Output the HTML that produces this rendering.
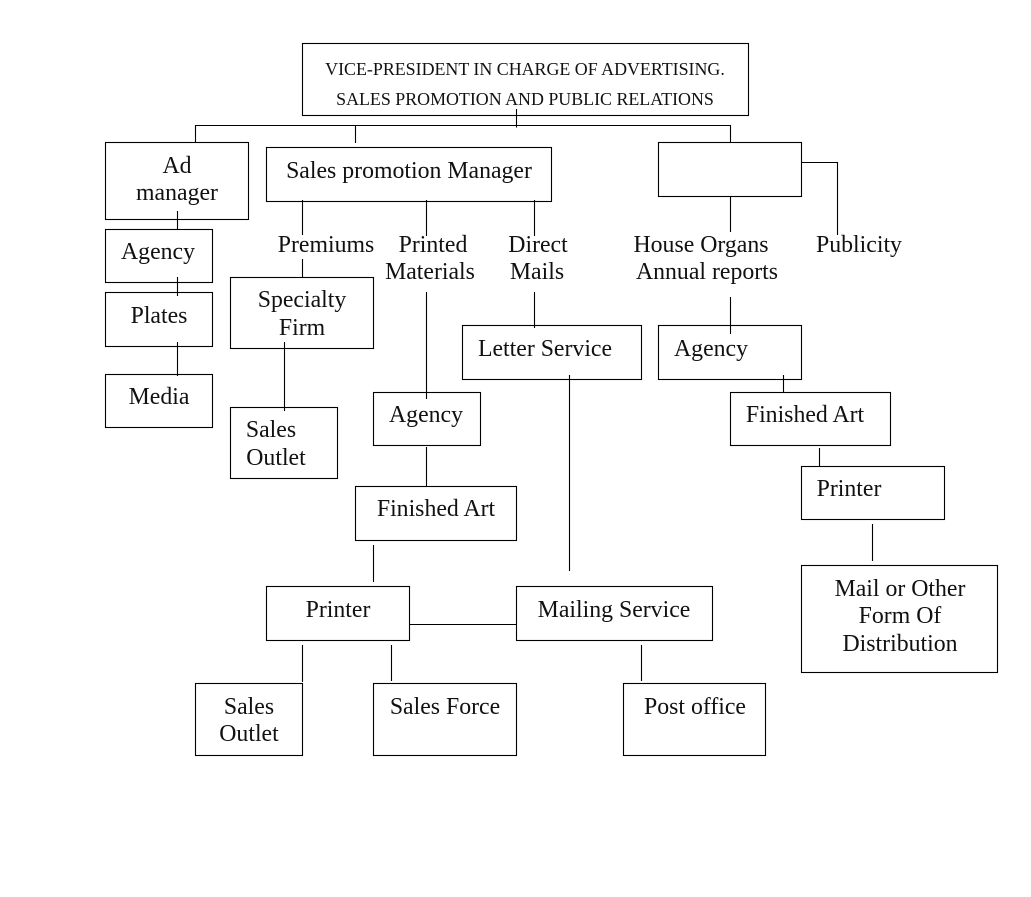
<!DOCTYPE html>
<html><head><meta charset="utf-8"><style>
html,body{margin:0;padding:0;background:#fff}
svg{display:block}
text{font-family:"Liberation Serif",serif;font-size:23.8px;fill:#111;text-anchor:middle}
.s{font-size:17.9px}
rect{fill:#fff;stroke:#000;stroke-width:1.1}
path{fill:none;stroke:#000;stroke-width:1.1}
</style></head><body>
<svg width="1031" height="897" viewBox="0 0 1031 897" xmlns="http://www.w3.org/2000/svg">
<rect x="302.5" y="43.5" width="446" height="72"/>
<rect x="105.5" y="142.5" width="143" height="77"/>
<rect x="266.5" y="147.5" width="285" height="54"/>
<rect x="658.5" y="142.5" width="143" height="54"/>
<rect x="105.5" y="229.5" width="107" height="53"/>
<rect x="105.5" y="292.5" width="107" height="54"/>
<rect x="105.5" y="374.5" width="107" height="53"/>
<rect x="230.5" y="277.5" width="143" height="71"/>
<rect x="230.500" y="407.5" width="107" height="71"/>
<rect x="462.5" y="325.5" width="179" height="54"/>
<rect x="658.5" y="325.5" width="143" height="54"/>
<rect x="373.5" y="392.5" width="107" height="53"/>
<rect x="730.5" y="392.5" width="160" height="53"/>
<rect x="801.5" y="466.5" width="143" height="53"/>
<rect x="355.5" y="486.5" width="161" height="54"/>
<rect x="801.5" y="565.5" width="196" height="107"/>
<rect x="266.5" y="586.5" width="143" height="54"/>
<rect x="516.5" y="586.5" width="196" height="54"/>
<rect x="195.5" y="683.5" width="107" height="72"/>
<rect x="373.5" y="683.5" width="143" height="72"/>
<rect x="623.5" y="683.5" width="142" height="72"/>
<path d="M516.500 109V127.500M195.500 142V125.500H730.500V142M355.500 125.500V143"/>
<path d="M177.500 211V229M177.500 277V296M177.500 342V376"/>
<path d="M302.500 200V235M302.500 259V277M284.500 342V411"/>
<path d="M426.500 200V236M426.500 292V399M426.500 447V486M373.500 545V582"/>
<path d="M534.500 200V236M534.500 292V328M569.500 375V571"/>
<path d="M730.500 196V232M730.500 297V334M783.500 375V392M819.500 448V466M872.500 524V561"/>
<path d="M801 162.500H837.500V235"/>
<path d="M409 624.500H516M289.500 645V681M302.500 645V682M391.500 645V681M641.500 645V681" style="display:none"/>
<path d="M409 624.500H516M302.500 645V682M391.500 645V681M641.500 645V681"/>
<text class="s" x="525" y="75">VICE-PRESIDENT IN CHARGE OF ADVERTISING.</text>
<text class="s" x="525" y="105">SALES PROMOTION AND PUBLIC RELATIONS</text>
<text x="177" y="173">Ad</text><text x="177" y="200">manager</text>
<text x="409" y="178">Sales promotion Manager</text>
<text x="158" y="259">Agency</text>
<text x="159" y="323">Plates</text>
<text x="159" y="404">Media</text>
<text x="326" y="252">Premiums</text>
<text x="433" y="252">Printed</text><text x="430" y="279">Materials</text>
<text x="538" y="252">Direct</text><text x="537" y="279">Mails</text>
<text x="701" y="252">House Organs</text><text x="707" y="279">Annual reports</text>
<text x="859" y="252">Publicity</text>
<text x="302" y="307">Specialty</text><text x="302" y="335">Firm</text>
<text x="271" y="437">Sales</text><text x="276" y="465">Outlet</text>
<text x="545" y="356">Letter Service</text>
<text x="711" y="356">Agency</text>
<text x="426" y="422">Agency</text>
<text x="805" y="422">Finished Art</text>
<text x="849" y="496">Printer</text>
<text x="436" y="516">Finished Art</text>
<text x="900" y="596">Mail or Other</text><text x="900" y="623">Form Of</text><text x="900" y="651">Distribution</text>
<text x="338" y="617">Printer</text>
<text x="614" y="617">Mailing Service</text>
<text x="249" y="714">Sales</text><text x="249" y="741">Outlet</text>
<text x="445" y="714">Sales Force</text>
<text x="695" y="714">Post office</text>
</svg>
</body></html>
